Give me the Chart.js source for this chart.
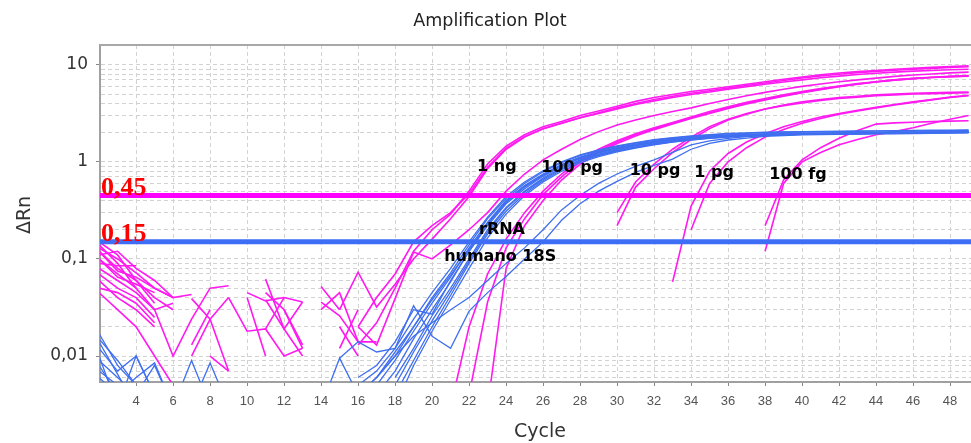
<!DOCTYPE html>
<html>
<head>
<meta charset="utf-8">
<title>Amplification Plot</title>
<script src="https://cdn.jsdelivr.net/npm/chart.js@4.4.1/dist/chart.umd.min.js"></script>
<style>
html,body{margin:0;padding:0;background:#fff;overflow:hidden;}
canvas{display:block;}
</style>
</head>
<body>
<canvas id="plot" width="971" height="443"></canvas>
<script>
const _=null;

const cycles=[2,3,4,5,6,7,8,9,10,11,12,13,14,15,16,17,
18,19,20,21,22,23,24,25,26,27,28,29,30,31,32,33,
34,35,36,37,38,39,40,41,42,43,44,45,46,47,48,49];

// magenta runs (dilutions), one value per cycle, null = no reading
const ng1A=[.13,.10,.072,.05,.04,_,_,_,_,_,_,_,_,_,.013,.022,
.05,.12,.2,.29,.5,.95,1.45,1.9,2.3,2.6,3.0,3.35,3.75,4.2,4.6,4.95,
5.3,5.6,5.95,6.3,6.7,7.1,7.5,7.9,8.25,8.5,8.75,9.0,9.2,9.4,9.6,9.75];
const ng1B=[.11,.12,.08,.06,.04,.043,_,_,_,_,_,_,_,.03,.073,.032,
.055,.1,.16,.26,.44,.85,1.35,1.8,2.2,2.5,2.85,3.2,3.6,4.0,4.4,4.75,
5.1,5.4,5.75,6.1,6.5,6.9,7.3,7.7,8.0,8.3,8.55,8.8,9.0,9.2,9.4,9.55];
const ng1C=[.12,.075,.065,.05,.04,_,_,_,_,.045,.03,_,_,_,.02,.04,
.07,.15,.22,.3,.47,.88,1.38,1.82,2.2,2.5,2.85,3.15,3.5,3.9,4.25,4.6,
4.95,5.25,5.6,5.95,6.3,6.65,7.0,7.35,7.65,7.95,8.2,8.4,8.6,8.75,8.9,9.0];
const pg100A=[.09,.085,.085,_,_,.01,.024,.04,_,_,.04,.036,_,_,.02,.013,
.039,.118,.1,.14,.2,.3,.5,.75,1.05,1.35,1.7,2.05,2.4,2.7,3.0,3.3,
3.6,4.0,4.4,4.8,5.2,5.6,6.0,6.35,6.7,7.0,7.3,7.6,7.85,8.05,8.25,8.4];
const pg100B=[.15,.11,.06,.035,_,.039,.024,.007,_,.038,.019,.01,_,_,_,_,
_,_,_,.003,.02,.07,.16,.3,.5,.75,1.05,1.35,1.65,1.95,2.25,2.55,
2.9,3.3,3.7,4.1,4.5,4.9,5.3,5.7,6.05,6.4,6.7,7.0,7.2,7.4,7.55,7.7];
const pg100C=[.1,.07,.05,.03,.01,.024,.05,.053,_,_,_,_,.052,.03,_,_,
_,_,_,_,.004,.036,.13,.26,.46,.7,1.0,1.3,1.6,1.9,2.2,2.5,
2.85,3.2,3.6,4.0,4.4,4.8,5.2,5.6,6.0,6.35,6.7,7.0,7.25,7.45,7.6,7.75];
const pg100D=[.08,.06,.045,.03,.035,_,_,.04,.018,.019,.01,.012,_,_,_,_,
_,_,_,_,_,.003,.08,.22,.4,.65,.95,1.25,1.55,1.85,2.15,2.45,
2.8,3.15,3.55,3.95,4.35,4.75,5.15,5.55,5.95,6.3,6.65,6.95,7.2,7.4,7.55,7.65];
const pg10A=[.07,.05,.04,.025,_,.02,_,_,.045,.037,.04,_,.036,.026,.014,_,
_,_,_,_,_,_,_,_,_,_,_,_,.22,.55,.85,1.25,
1.7,2.2,2.7,3.1,3.5,3.85,4.15,4.4,4.6,4.75,4.9,5.0,5.1,5.15,5.2,5.25];
const pg10B=[.06,.04,.03,.02,_,_,.01,.007,_,.062,.019,.036,_,_,.039,_,
_,_,_,_,_,_,_,_,_,_,_,_,.3,.62,.95,1.35,
1.8,2.3,2.75,3.15,3.5,3.8,4.05,4.3,4.5,4.65,4.8,4.9,5.0,5.05,5.1,5.15];
const pg1A=[.05,.045,.035,.022,_,.013,.03,_,_,_,.03,.012,_,.02,.01,_,
_,_,_,_,_,_,_,_,_,_,_,_,_,_,_,.058,
.35,.8,1.22,1.6,1.95,2.3,2.6,2.9,3.15,3.4,3.65,3.9,4.15,4.4,4.65,4.85];
const pg1B=[.14,.09,.05,_,_,_,_,_,_,.019,.04,_,_,.012,.03,_,
_,_,_,_,_,_,_,_,_,_,_,_,_,_,_,_,
.2,.6,1.0,1.4,1.8,2.15,2.5,2.8,3.1,3.35,3.6,3.85,4.1,4.35,4.6,4.8];
const fg100A=[.12,.08,.06,.04,.03,_,_,_,.04,.01,_,_,_,_,_,_,
_,_,_,_,_,_,_,_,_,_,_,_,_,_,_,_,
_,_,_,_,.12,.6,1.0,1.25,1.5,1.7,1.9,2.05,2.25,2.5,2.75,3.0];
const fg100B=[.1,.065,.055,.045,_,_,_,_,_,_,.03,.013,_,_,_,_,
_,_,_,_,_,_,_,_,_,_,_,_,_,_,_,_,
_,_,_,_,.22,.65,1.05,1.4,1.75,2.1,2.45,2.52,2.56,2.6,2.63,2.65];
const ntc=[.045,.03,.02,.01,.005,_,_,_,_,_,_,_,.03,.045,.014,.014,
_,_,_,_,_,_,_,_,_,_,_,_,_,_,_,_,
_,_,_,_,_,_,_,_,_,_,_,_,_,_,_,_];

// blue runs (rRNA humano 18S)
const rna1=[.017,.008,.005,_,_,_,_,_,_,_,_,_,_,_,_,.005,
.009,.018,.035,.065,.13,.24,.4,.57,.75,.94,1.12,1.27,1.4,1.52,1.63,1.72,
1.79,1.85,1.89,1.92,1.94,1.96,1.97,1.98,1.99,2.0,2.01,2.02,2.03,2.04,2.05,2.06];
const rna2=[.012,.007,.01,.004,_,_,_,_,_,_,_,_,_,_,_,.004,
.007,.015,.03,.058,.12,.22,.37,.53,.71,.9,1.08,1.23,1.36,1.48,1.59,1.68,
1.75,1.81,1.85,1.88,1.9,1.92,1.93,1.94,1.95,1.96,1.97,1.98,1.99,2.0,2.0,2.01];
const rna3=[.009,.006,.004,.008,.003,_,_,_,_,_,_,_,_,_,_,_,
.006,.012,.026,.05,.1,.2,.34,.5,.68,.87,1.05,1.2,1.34,1.46,1.57,1.66,
1.74,1.8,1.85,1.89,1.92,1.94,1.96,1.97,1.98,1.99,2.0,2.01,2.02,2.03,2.04,2.05];
const rna4=[.014,.0065,.003,_,_,_,_,_,_,_,_,_,_,_,.004,.006,
.011,.02,.04,.072,.14,.26,.42,.6,.79,.98,1.16,1.31,1.44,1.56,1.67,1.76,
1.83,1.89,1.94,1.97,2.0,2.02,2.03,2.04,2.05,2.06,2.07,2.08,2.09,2.1,2.1,2.11];
const rna5=[.007,.005,_,_,.003,.009,.003,_,_,_,_,_,_,_,_,_,
.005,.011,.023,.046,.095,.19,.33,.49,.66,.85,1.03,1.18,1.31,1.43,1.54,1.63,
1.71,1.77,1.82,1.86,1.89,1.91,1.93,1.94,1.95,1.96,1.97,1.98,1.99,2.0,2.01,2.02];
const rna6=[.006,.004,_,_,_,.003,.0085,.003,_,_,_,_,.003,.0095,.004,.006,
.01,.02,.038,.068,.125,.23,.38,.55,.73,.92,1.1,1.25,1.38,1.5,1.61,1.7,
1.77,1.83,1.87,1.9,1.93,1.95,1.96,1.97,1.98,1.99,2.0,2.01,2.02,2.03,2.04,2.05];
const rna7=[.01,.003,.01,.004,_,_,_,_,_,_,_,_,_,_,.005,.007,
.012,.024,.045,.08,.15,.27,.44,.62,.81,1.0,1.18,1.33,1.46,1.58,1.69,1.78,
1.85,1.91,1.96,1.99,2.02,2.04,2.05,2.06,2.07,2.08,2.09,2.1,2.11,2.12,2.12,2.13];
const rna8=[.008,.004,.006,.0085,.003,_,_,_,_,_,_,_,_,_,_,_,
.004,.009,.02,.042,.09,.18,.31,.47,.64,.83,1.01,1.16,1.29,1.41,1.52,1.61,
1.69,1.76,1.81,1.85,1.88,1.91,1.93,1.94,1.95,1.96,1.97,1.98,1.99,2.0,2.0,2.01];
const rna9=[.005,.003,_,_,_,_,_,_,_,_,_,_,_,_,_,_,
.003,.008,.018,.038,.08,.165,.29,.45,.62,.8,.98,1.13,1.27,1.39,1.5,1.6,
1.68,1.75,1.8,1.84,1.87,1.9,1.92,1.93,1.94,1.95,1.96,1.97,1.98,1.99,2.0,2.0];
const rna10=[.015,.009,.005,_,_,_,_,_,_,_,_,_,_,_,.006,.008,
.014,.03,.027,.06,.12,.23,.39,.56,.74,.93,1.11,1.26,1.39,1.51,1.62,1.71,
1.78,1.84,1.88,1.91,1.93,1.95,1.96,1.97,1.98,1.99,2.0,2.01,2.02,2.03,2.04,2.05];
const rna11=[_,_,_,_,_,_,_,_,_,_,_,_,_,.0095,.014,.011,
.012,.033,.016,.012,.029,.045,.066,.1,.15,.25,.37,.5,.63,.78,.92,1.07,
1.35,1.55,1.68,1.76,1.83,1.87,1.9,1.91,1.92,1.93,1.94,1.95,1.96,1.97,1.98,1.99];
const rna12=[_,_,_,_,_,_,_,_,_,_,_,_,_,_,_,.006,
.01,.016,.022,.03,.04,.06,.09,.13,.2,.32,.45,.6,.75,.9,1.05,1.25,
1.5,1.65,1.75,1.82,1.87,1.9,1.92,1.94,1.95,1.96,1.97,1.98,1.99,2.0,2.01,2.02];

const thresholdValues=[0.45,0.15];
const thresholdLabels=["0,45","0,15"];
const thresholdColors=["#ff00ff","#3d6ef5"];

const yTickValues=[0.01,0.1,1,10];
const yTickLabels=["0,01","0,1","1","10"];
const yDecades=[0.001,0.01,0.1,1,10];
const ySteps=[1,2,3,4,5,6,7,8,9];

const noteTexts=["1 ng","100 pg","10 pg","1 pg","100 fg","rRNA","humano 18S"];

const xMin=2.05, xMax=49.13, yMin=0.0054, yMax=16;

const magentaRuns=[ng1A,ng1B,ng1C,pg100A,pg100B,pg100C,pg100D,pg10A,pg10B,pg1A,pg1B,fg100A,fg100B,ntc];
const blueRuns=[rna1,rna2,rna3,rna4,rna5,rna6,rna7,rna8,rna9,rna10,rna11,rna12];

// where the notes sit, in cycle / ΔRn units
const noteAt=[[23.5,0.807],[27.57,0.789],[32.05,0.735],[35.24,0.7],[39.78,0.668],[23.78,0.181],[23.68,0.0953]];

function yLabelFor(v){
const i=yTickValues.findIndex(t=>Math.abs(Math.log10(t)-Math.log10(v))<1e-6);
return i<0?"":yTickLabels[i];
}

const datasets=[];
thresholdValues.forEach((t,i)=>{
datasets.push({data:[{x:xMin,y:t},{x:xMax,y:t}],borderColor:thresholdColors[i],borderWidth:5,pointRadius:0});
});
blueRuns.forEach(r=>{
datasets.push({data:r,borderColor:"#3f6ff0",borderWidth:1.3,pointRadius:0,clip:0});
});
magentaRuns.forEach(r=>{
datasets.push({data:r,borderColor:"#ff1af0",borderWidth:1.6,pointRadius:0,clip:0});
});

const decor={
id:"decor",
beforeDraw(chart){
const {ctx,width,height}=chart;
ctx.save();
ctx.fillStyle="#fff";
ctx.fillRect(0,0,width,height);
ctx.restore();
},
afterDraw(chart){
const {ctx,chartArea:a,scales:{x,y}}=chart;
ctx.save();
ctx.strokeStyle="#a8a8a8";
ctx.lineWidth=2;
ctx.beginPath();
ctx.moveTo(a.left,a.top);
ctx.lineTo(a.right,a.top);
ctx.stroke();

ctx.font='bold 26px "Liberation Serif"';
ctx.fillStyle="#ff0000";
ctx.textAlign="left";
ctx.textBaseline="alphabetic";
thresholdValues.forEach((t,i)=>ctx.fillText(thresholdLabels[i],a.left+1,y.getPixelForValue(t)-1));

ctx.font='bold 16px "DejaVu Sans"';
ctx.fillStyle="#000";
ctx.textAlign="center";
noteTexts.forEach((s,i)=>ctx.fillText(s,x.getPixelForValue(noteAt[i][0]),y.getPixelForValue(noteAt[i][1])));

ctx.textBaseline="middle";
ctx.fillStyle="#222";
ctx.font='17.5px "DejaVu Sans"';
ctx.fillText("Amplification Plot",490,21);
ctx.fillStyle="#333";
ctx.font='19px "DejaVu Sans"';
ctx.fillText("Cycle",540,432);
ctx.translate(25,215);
ctx.rotate(-Math.PI/2);
ctx.fillText("ΔRn",0,0);
ctx.restore();
}
};

new Chart(document.getElementById("plot"),{
type:"line",
data:{labels:cycles,datasets:datasets},
options:{
responsive:false,
animation:false,
devicePixelRatio:1,
layout:{padding:{top:45,left:0,right:0,bottom:0}},
elements:{line:{tension:0}},
plugins:{legend:{display:false},tooltip:{enabled:false},title:{display:false}},
scales:{
x:{
type:"linear",
min:xMin,
max:xMax,
afterFit(s){s.height=61;s.paddingLeft=0;s.paddingRight=0;},
ticks:{stepSize:2,includeBounds:false,autoSkip:false,maxRotation:0,padding:8,color:"#555",font:{family:"Liberation Sans",size:13}},
grid:{color:"#d2d2d2",tickLength:4,tickColor:"#888"},
border:{color:"#a0a0a0",width:2,dash:[4,3]}
},
y:{
type:"logarithmic",
min:yMin,
max:yMax,
afterFit(s){s.width=100;},
afterBuildTicks(s){
const t=[];
yDecades.forEach(d=>ySteps.forEach(k=>{const v=d*k;if(v>=yMin&&v<=yMax)t.push({value:v});}));
s.ticks=t;
},
ticks:{autoSkip:false,padding:8,color:"#333",font:{family:"DejaVu Sans",size:17},callback:v=>yLabelFor(v)},
grid:{color:"#d2d2d2",tickLength:4,tickColor:c=>c.tick&&yLabelFor(c.tick.value)?"#888":"rgba(0,0,0,0)"},
border:{color:"#a0a0a0",width:2,dash:[4,3]}
}
}
},
plugins:[decor]
});
</script>
</body>
</html>
